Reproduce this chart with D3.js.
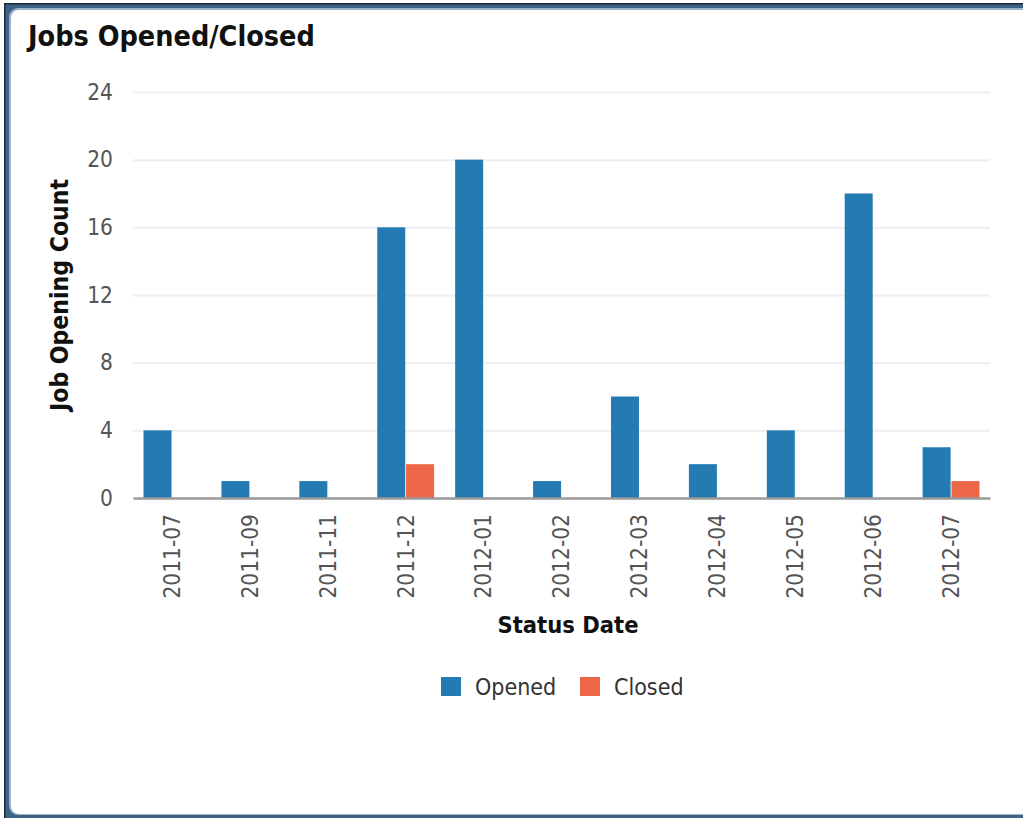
<!DOCTYPE html>
<html>
<head>
<meta charset="utf-8">
<script src="https://cdn.jsdelivr.net/npm/d3@7"></script>
<style>
  html, body { margin: 0; padding: 0; background: #fff; }
  svg { display: block; }
  text { font-family: "DejaVu Sans Condensed", "DejaVu Sans", sans-serif; font-stretch: condensed; }
</style>
</head>
<body>
<svg id="chart" width="1023" height="818"></svg>
<script>
// Monthly job opening counts by status date
const categories = ["2011-07", "2011-09", "2011-11", "2011-12", "2012-01", "2012-02",
                    "2012-03", "2012-04", "2012-05", "2012-06", "2012-07"];
const seriesNames = ["Opened", "Closed"];
const openedValues = [4, 1, 1, 16, 20, 1, 6, 2, 4, 18, 3];
const closedValues = [0, 0, 0, 2, 0, 0, 0, 0, 0, 0, 1];
const yTicks = [0, 4, 8, 12, 16, 20, 24];
const seriesColors = ["#237bb1", "#ed6647"];

const svg = d3.select("#chart");
const W = 1023, H = 818;
const FONT = '"DejaVu Sans Condensed", "DejaVu Sans", sans-serif';

// Panel frame: dark outer edge, blue bevel, white rounded body
svg.append("rect").attr("x", 4).attr("y", 3).attr("width", W + 20).attr("height", H + 20).attr("fill", "#1e2a36");
svg.append("rect").attr("x", 5.5).attr("y", 4.5).attr("width", W + 20).attr("height", H + 20).attr("fill", "#3d6387");
svg.append("rect").attr("x", 9).attr("y", 8).attr("width", W + 20).attr("height", 807).attr("rx", 9).attr("fill", "#9db3c8");
svg.append("rect").attr("x", 11).attr("y", 10).attr("width", W + 20).attr("height", 804).attr("rx", 8).attr("fill", "#ffffff");

const plot = { left: 133, right: 990, top: 92, bottom: 498 };

const x = d3.scaleBand()
  .domain(categories)
  .range([plot.left, plot.right])
  .paddingInner(0.27)
  .paddingOuter(0.135);

const xs = d3.scaleBand()
  .domain(seriesNames)
  .range([0, x.bandwidth()])
  .paddingInner(0.03);

const y = d3.scaleLinear().domain([0, 24]).range([plot.bottom, plot.top]);

// Title
svg.append("text")
  .attr("x", 28).attr("y", 46)
  .attr("font-size", 28.5).attr("font-weight", "bold").attr("fill", "#111")
  .text("Jobs Opened/Closed");

// Gridlines and y tick labels
const yAxis = d3.axisLeft(y).tickValues(yTicks).tickSize(0).tickPadding(20)
  .tickFormat(d3.format("d"));
const gy = svg.append("g").attr("transform", `translate(${plot.left},0)`).call(yAxis);
gy.select(".domain").remove();
gy.selectAll(".tick text")
  .attr("font-size", 22.5).attr("fill", "#555")
  .style("font-family", FONT);
gy.selectAll(".tick").filter(d => d !== 0).append("line")
  .attr("x1", 0).attr("x2", plot.right - plot.left)
  .attr("stroke", "#eceef3").attr("stroke-width", 2);

// Bars
const data = categories.map((c, i) => ({ cat: c, values: [openedValues[i], closedValues[i]] }));
const groups = svg.append("g").selectAll("g").data(data).join("g")
  .attr("transform", d => `translate(${x(d.cat)},0)`);
groups.selectAll("rect")
  .data(d => d.values.map((v, k) => ({ name: seriesNames[k], value: v, color: seriesColors[k] })).filter(e => e.value > 0))
  .join("rect")
  .attr("x", e => xs(e.name))
  .attr("width", xs.bandwidth())
  .attr("y", e => y(e.value))
  .attr("height", e => y(0) - y(e.value))
  .attr("fill", e => e.color);

// X axis baseline and labels
const xAxis = d3.axisBottom(x).tickSize(0).tickPadding(0);
const gx = svg.append("g").attr("transform", `translate(0,${plot.bottom})`).call(xAxis);
gx.select(".domain").attr("stroke", "#9a9a9a").attr("stroke-width", 2.5);
gx.selectAll(".tick text")
  .attr("font-size", 22.5).attr("fill", "#555")
  .style("font-family", FONT)
  .attr("text-anchor", "end")
  .attr("transform", "rotate(-90)")
  .attr("x", -16).attr("y", 0).attr("dy", "0.35em");

// Axis titles
svg.append("text")
  .attr("transform", "translate(68,295) rotate(-90)")
  .attr("text-anchor", "middle")
  .attr("font-size", 24.5).attr("font-weight", "bold").attr("fill", "#111")
  .text("Job Opening Count");
svg.append("text")
  .attr("x", 568).attr("y", 633)
  .attr("text-anchor", "middle")
  .attr("font-size", 23.5).attr("font-weight", "bold").attr("fill", "#111")
  .text("Status Date");

// Legend
const legendItems = [
  { name: seriesNames[0], color: seriesColors[0], x: 441 },
  { name: seriesNames[1], color: seriesColors[1], x: 580 }
];
const lg = svg.append("g").selectAll("g").data(legendItems).join("g")
  .attr("transform", d => `translate(${d.x},677)`);
lg.append("rect").attr("width", 20).attr("height", 19).attr("fill", d => d.color);
lg.append("text").attr("x", 34).attr("y", 18)
  .attr("font-size", 23).attr("fill", "#333")
  .text(d => d.name);
</script>
</body>
</html>
